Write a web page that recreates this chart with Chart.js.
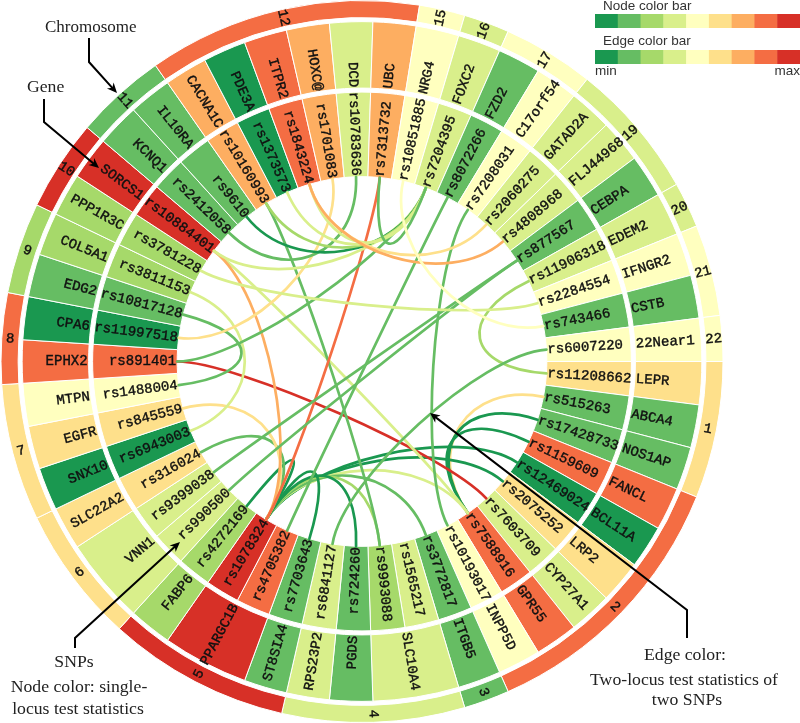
<!DOCTYPE html>
<html><head><meta charset="utf-8">
<style>html,body{margin:0;padding:0;background:#fff}canvas{display:block}</style>
<script src="https://cdn.jsdelivr.net/npm/chart.js@4"></script>
</head><body><canvas id="c" width="800" height="723"></canvas>
<script>
const palette = ['#1a9850','#66bd63','#a6d96a','#d9ef8b','#ffffbf','#fee08b','#fdae61','#f46d43','#d73027'];
const snpNames = ['rs11208662','rs515263','rs17428733','rs1159609','rs12469024','rs2075252','rs7603709','rs7588916','rs10193017','rs3772817','rs1565217','rs9993088','rs724260','rs6841127','rs7703643','rs4705382','rs1078324','rs4272169','rs990500','rs9399038','rs316024','rs6943003','rs845559','rs1488004','rs891401','rs11997518','rs10817128','rs3811153','rs3781228','rs10884401','rs2412058','rs9610','rs10160993','rs1373573','rs1843224','rs1701083','rs10783636','rs7313732','rs10851885','rs7204395','rs8072266','rs7208031','rs2060275','rs4808968','rs877567','rs11906318','rs2284554','rs743466','rs6007220'];
const snpLevels = [6,2,2,8,1,6,4,8,5,2,4,3,2,4,2,8,9,3,4,4,6,1,6,5,8,1,2,3,3,9,2,2,7,1,8,7,4,7,5,4,2,5,4,4,2,4,5,2,5];
const geneNames = ['LEPR','ABCA4','NOS1AP','FANCL','BCL11A','LRP2','CYP27A1','GPR55','INPP5D','ITGB5','SLC10A4','PGDS','RPS23P2','ST8SIA4','PPARGC1B','FABP6','VNN1','SLC22A2','SNX10','EGFR','MTPN','EPHX2','CPA6','EDG2','COL5A1','PPP1R3C','SORCS1','KCNQ1','IL10RA','CACNA1C','PDE3A','ITPR2','HOXC@','DCD','UBC','NRG4','FOXC2','FZD2','C17orf54','GATAD2A','FLJ44968','CEBPA','EDEM2','IFNGR2','CSTB','22Near1'];
const geneSnpCounts = [1,1,1,1,1,1,1,1,1,1,2,1,1,1,2,1,2,1,1,1,1,1,1,1,1,1,1,1,1,1,1,1,1,1,1,1,1,1,1,1,1,1,1,1,1,1];
const geneLevels = [6,2,2,8,1,6,4,8,5,2,4,2,4,2,9,3,4,6,1,6,5,8,1,2,3,3,9,2,2,7,1,8,7,4,7,5,4,2,5,4,4,2,4,5,2,5];
const chrNames = ['1','2','3','4','5','6','7','8','9','10','11','12','15','16','17','19','20','21','22'];
const chrSnpCounts = [3,6,1,4,4,3,3,2,2,2,2,6,1,1,2,3,1,2,1];
const chrLevels = [6,8,2,4,9,6,6,8,3,9,2,8,5,4,5,4,4,5,5];
// links: SNP number, SNP number, edge colour level
const links = [[1,46,3],[2,8,6],[3,8,1],[4,8,1],[5,17,1],[6,17,1],[7,25,9],[8,30,4],[8,17,4],[9,42,2],[10,17,2],[12,17,3],[12,33,2],[13,17,1],[14,49,2],[15,17,1],[16,41,2],[17,18,1],[17,21,2],[17,23,6],[17,30,7],[17,38,8],[19,45,2],[20,45,2],[22,28,4],[24,27,2],[25,40,2],[26,36,6],[29,47,4],[30,40,4],[31,37,2],[32,40,1],[33,40,3],[34,40,4],[35,40,4],[35,43,6],[35,44,7],[38,40,2],[39,48,5]];
const notes = [['Chromosome',45,28,'left'],['Gene',27,87,'left'],['SNPs',74,662,'center'],['Node color: single-',79,687,'center'],['locus test statistics',78,709,'center'],['Edge color:',685,655,'center'],['Two-locus test statistics of',684,680,'center'],['two SNPs',687,700,'center']];
const arrows = [[[89,38],[89,62],[117,93]],[[44,99],[44,122],[99,168]],[[75,648],[75,638],[180,542]],[[687,638],[687,610],[430,413]]];
const mono = '"Liberation Mono", monospace';

function ringLabels(ctx, meta, names, font, mode){
  ctx.font = font; ctx.fillStyle = '#111'; ctx.strokeStyle = '#111'; ctx.lineWidth = 0.4; ctx.textBaseline = 'middle';
  meta.data.forEach((arc,i)=>{
    const p = arc.getProps(['x','y','startAngle','endAngle','innerRadius','outerRadius'],true);
    const a = (p.startAngle+p.endAngle)/2, right = Math.cos(a) >= 0;
    const pad = 1;
    let x;
    ctx.save(); ctx.translate(p.x,p.y); ctx.rotate(right ? a : a+Math.PI);
    if(mode==='center'){ ctx.textAlign='center'; const r=(p.innerRadius+p.outerRadius)/2; x = right?r:-r; }
    else if(right){ ctx.textAlign='left'; x = p.innerRadius+pad; }
    else { ctx.textAlign='right'; x = -(p.innerRadius+pad); }
    ctx.fillText(names[i], x, 0); ctx.strokeText(names[i], x, 0);
    ctx.restore();
  });
}
const circlePlugin = {
  id:'circle',
  afterDatasetsDraw(chart){
    const ctx = chart.ctx;
    const snp = chart.getDatasetMeta(4);
    ctx.save();
    ctx.lineWidth = 2.7; ctx.lineCap='round';
    links.forEach(([a,b,l])=>{
      const A = snp.data[a-1].getProps(['x','y','startAngle','endAngle','innerRadius'],true);
      const B = snp.data[b-1].getProps(['startAngle','endAngle'],true);
      const ta=(A.startAngle+A.endAngle)/2, tb=(B.startAngle+B.endAngle)/2;
      let sep=Math.abs(ta-tb); if(sep>Math.PI) sep=2*Math.PI-sep;
      const k=0.53+0.2*sep/Math.PI, r=A.innerRadius;
      ctx.strokeStyle=palette[l-1];
      ctx.beginPath();
      ctx.moveTo(A.x+r*Math.cos(ta),A.y+r*Math.sin(ta));
      ctx.bezierCurveTo(A.x+k*r*Math.cos(ta),A.y+k*r*Math.sin(ta),A.x+k*r*Math.cos(tb),A.y+k*r*Math.sin(tb),A.x+r*Math.cos(tb),A.y+r*Math.sin(tb));
      ctx.stroke();
    });
    ctx.restore();
    ctx.save();
    ringLabels(ctx, snp, snpNames, '14px '+mono, 'radial');
    ringLabels(ctx, chart.getDatasetMeta(2), geneNames, '14px '+mono, 'radial');
    ringLabels(ctx, chart.getDatasetMeta(0), chrNames, '14px '+mono, 'center');
    ctx.restore();
    // colour bars
    ctx.save();
    const bx=595, bw=205/palette.length;
    [14,50].forEach(y=>palette.forEach((c,i)=>{ctx.fillStyle=c;ctx.fillRect(bx+i*bw,y,bw+0.5,14);}));
    ctx.fillStyle='#333'; ctx.font='13.5px "Liberation Sans", sans-serif'; ctx.textBaseline='middle'; ctx.textAlign='left';
    ctx.fillText('Node color bar',603,6); ctx.fillText('Edge color bar',603,41); ctx.fillText('min',595,71);
    ctx.textAlign='right'; ctx.fillText('max',800,71);
    ctx.restore();
    // notes and arrows
    ctx.save();
    ctx.fillStyle='#222'; ctx.textBaseline='middle';
    notes.forEach(([t,x,y,al])=>{ctx.font=(t==='Chromosome'?'17px':'17.7px')+' "Liberation Serif", serif';ctx.textAlign=al;ctx.fillText(t,x,y);});
    ctx.strokeStyle='#000'; ctx.fillStyle='#000'; ctx.lineWidth=2;
    arrows.forEach(pts=>{
      const n=pts.length, [x1,y1]=pts[n-1], [x0,y0]=pts[n-2], an=Math.atan2(y1-y0,x1-x0);
      ctx.beginPath(); pts.forEach(([x,y],i)=>{ if(i===n-1) ctx.lineTo(x-6*Math.cos(an),y-6*Math.sin(an)); else if(i) ctx.lineTo(x,y); else ctx.moveTo(x,y);}); ctx.stroke();
      ctx.beginPath(); ctx.moveTo(x1,y1);
      ctx.lineTo(x1-11*Math.cos(an-0.42),y1-11*Math.sin(an-0.42));
      ctx.lineTo(x1-7*Math.cos(an),y1-7*Math.sin(an));
      ctx.lineTo(x1-11*Math.cos(an+0.42),y1-11*Math.sin(an+0.42));
      ctx.closePath(); ctx.fill();
    });
    ctx.restore();
  }
};
const colors = levels => levels.map(l=>palette[l-1]);
new Chart(document.getElementById('c'),{
  type:'doughnut',
  data:{labels:snpNames,datasets:[
    {data:chrSnpCounts,backgroundColor:colors(chrLevels),borderColor:'#fff',borderWidth:1,weight:17},
    {data:[1],backgroundColor:'rgba(0,0,0,0)',borderWidth:0,weight:4},
    {data:geneSnpCounts,backgroundColor:colors(geneLevels),borderColor:'#fff',borderWidth:1,weight:66},
    {data:[1],backgroundColor:'rgba(0,0,0,0)',borderWidth:0,weight:4},
    {data:snpLevels.map(()=>1),backgroundColor:colors(snpLevels),borderColor:'#fff',borderWidth:1,weight:84}
  ]},
  options:{responsive:false,animation:false,rotation:90,cutout:'51.2%',
    layout:{padding:{left:-2,right:76,top:-2,bottom:-2}},
    plugins:{legend:{display:false},tooltip:{enabled:false},title:{display:false}}},
  plugins:[circlePlugin]
});
</script></body></html>
